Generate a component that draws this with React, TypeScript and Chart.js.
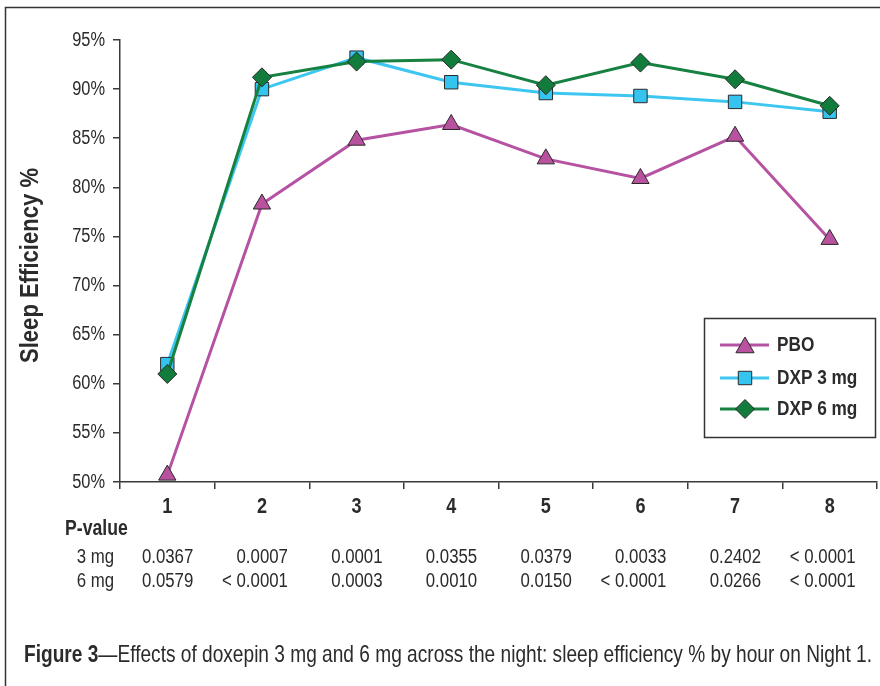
import React, { useEffect, useRef } from "react";
import { Chart, registerables } from "chart.js";

Chart.register(...registerables);

const hours = ["1", "2", "3", "4", "5", "6", "7", "8"];
const pbo = [50.7, 78.3, 84.8, 86.4, 82.9, 80.9, 85.2, 74.7];
const dxp3 = [62.0, 90.0, 93.2, 90.7, 89.6, 89.3, 88.7, 87.7];
const dxp6 = [61.0, 91.2, 92.8, 93.0, 90.4, 92.7, 91.0, 88.3];
const yTicks = [50, 55, 60, 65, 70, 75, 80, 85, 90, 95];
const p3mg = ["0.0367", "0.0007", "0.0001", "0.0355", "0.0379", "0.0033", "0.2402", "< 0.0001"];
const p6mg = ["0.0579", "< 0.0001", "0.0003", "0.0010", "0.0150", "< 0.0001", "0.0266", "< 0.0001"];
const seriesNames = ["PBO", "DXP 3 mg", "DXP 6 mg"];
const yTitle = "Sleep Efficiency %";
const pLabel = "P-value";
const rowLabels = ["3 mg", "6 mg"];
const captionBold = "Figure 3";
const captionRest = "\u2014Effects of doxepin 3 mg and 6 mg across the night: sleep efficiency % by hour on Night 1.";

const FONT = '"Liberation Sans", Arial, sans-serif';
const NARROW = 0.82;
const TEXT = "#2b2b2b";
const AXIS = "#3a3a3a";

const COLORS = {
  pbo: { line: "#b652a2", fill: "#b8529f" },
  dxp3: { line: "#3cc6f0", fill: "#35c4f0" },
  dxp6: { line: "#168140", fill: "#117c3b" },
};

function txt(ctx: CanvasRenderingContext2D, s: string, x: number, y: number, font: string, align: string, sx = NARROW) {
  ctx.save();
  ctx.font = font;
  ctx.textBaseline = "middle";
  ctx.textAlign = "left";
  const w = ctx.measureText(s).width * sx;
  const left = align === "right" ? x - w : align === "center" ? x - w / 2 : x;
  ctx.translate(left, y);
  ctx.scale(sx, 1);
  ctx.fillStyle = TEXT;
  ctx.fillText(s, 0, 0);
  ctx.restore();
}

function marker(ctx: CanvasRenderingContext2D, style: string, x: number, y: number, r: number, fill: string) {
  ctx.save();
  ctx.beginPath();
  if (style === "triangle") {
    ctx.moveTo(x, y - r);
    ctx.lineTo(x + r * Math.sin((2 * Math.PI) / 3), y + r / 2);
    ctx.lineTo(x - r * Math.sin((2 * Math.PI) / 3), y + r / 2);
    ctx.closePath();
  } else if (style === "rect") {
    const s = Math.SQRT1_2 * r;
    ctx.rect(x - s, y - s, 2 * s, 2 * s);
  } else {
    ctx.moveTo(x, y - r);
    ctx.lineTo(x + r, y);
    ctx.lineTo(x, y + r);
    ctx.lineTo(x - r, y);
    ctx.closePath();
  }
  ctx.fillStyle = fill;
  ctx.fill();
  ctx.lineWidth = 1;
  ctx.strokeStyle = "#2a2a2a";
  ctx.stroke();
  ctx.restore();
}

const decorPlugin = {
  id: "decor",
  afterDraw(chart: any) {
    const ctx: CanvasRenderingContext2D = chart.ctx;
    const xs = chart.scales.x;
    const ys = chart.scales.y;
    ctx.save();
    // frame
    ctx.strokeStyle = "#333";
    ctx.lineWidth = 1.5;
    ctx.beginPath();
    ctx.moveTo(5.5, 686);
    ctx.lineTo(5.5, 7.5);
    ctx.lineTo(880, 7.5);
    ctx.stroke();

    // y tick labels
    yTicks.forEach((v) => {
      txt(ctx, v + "%", 105, ys.getPixelForValue(v), "20px " + FONT, "right");
    });
    // x tick labels
    hours.forEach((h, i) => {
      txt(ctx, h, xs.getPixelForValue(i), 507, "bold 22px " + FONT, "center");
    });

    // y title
    ctx.save();
    ctx.font = "bold 26px " + FONT;
    const tw = ctx.measureText(yTitle).width;
    ctx.translate(31, 265.5);
    ctx.rotate(-Math.PI / 2);
    ctx.scale(195 / tw, 1);
    ctx.fillStyle = TEXT;
    ctx.textAlign = "center";
    ctx.textBaseline = "middle";
    ctx.fillText(yTitle, 0, 0);
    ctx.restore();

    // P-value table
    txt(ctx, pLabel, 65, 529, "bold 21.5px " + FONT, "left");
    txt(ctx, rowLabels[0], 114, 557, "20.5px " + FONT, "right");
    txt(ctx, rowLabels[1], 114, 581, "20.5px " + FONT, "right");
    hours.forEach((_, i) => {
      const px = xs.getPixelForValue(i) + 26;
      txt(ctx, p3mg[i], px, 557, "20.5px " + FONT, "right");
      txt(ctx, p6mg[i], px, 581, "20.5px " + FONT, "right");
    });

    // legend box
    ctx.strokeStyle = "#333";
    ctx.lineWidth = 1.5;
    ctx.strokeRect(704.5, 318.5, 171, 119);
    const rows = [
      { name: seriesNames[0], c: COLORS.pbo, s: "triangle", y: 345 },
      { name: seriesNames[1], c: COLORS.dxp3, s: "rect", y: 378 },
      { name: seriesNames[2], c: COLORS.dxp6, s: "diamond", y: 409 },
    ];
    rows.forEach((r) => {
      ctx.strokeStyle = r.c.line;
      ctx.lineWidth = 3;
      ctx.beginPath();
      ctx.moveTo(720, r.y);
      ctx.lineTo(769, r.y);
      ctx.stroke();
      marker(ctx, r.s, 745, r.s === "triangle" ? r.y + 2.5 : r.y, r.s === "triangle" ? 10.5 : 9.5, r.c.fill);
      txt(ctx, r.name, 777, r.y, "bold 21px " + FONT, "left");
    });

    // caption
    ctx.font = "bold 24px " + FONT;
    const wb = ctx.measureText(captionBold).width;
    ctx.font = "24px " + FONT;
    const wr = ctx.measureText(captionRest).width;
    const sx = 848 / (wb + wr);
    ctx.save();
    ctx.translate(24, 662);
    ctx.scale(sx, 1);
    ctx.fillStyle = TEXT;
    ctx.textBaseline = "alphabetic";
    ctx.textAlign = "left";
    ctx.font = "bold 24px " + FONT;
    ctx.fillText(captionBold, 0, 0);
    ctx.font = "24px " + FONT;
    ctx.fillText(captionRest, wb, 0);
    ctx.restore();
    ctx.restore();
  },
};

export default function App() {
  const ref = useRef<HTMLCanvasElement | null>(null);
  useEffect(() => {
    if (!ref.current) return;
    const mk = (label: string, data: number[], c: any, style: string, r: number, order: number) => ({
      label,
      data,
      borderColor: c.line,
      backgroundColor: c.fill,
      borderWidth: 3,
      pointStyle: style,
      pointRadius: r,
      pointHoverRadius: r,
      pointBackgroundColor: c.fill,
      pointBorderColor: "#2a2a2a",
      pointBorderWidth: 1,
      tension: 0,
      clip: false,
      order,
    });
    const chart = new Chart(ref.current, {
      type: "line",
      data: {
        labels: hours,
        datasets: [
          mk(seriesNames[0], pbo, COLORS.pbo, "triangle", 10, 3),
          mk(seriesNames[1], dxp3, COLORS.dxp3, "rect", 9.5, 2),
          mk(seriesNames[2], dxp6, COLORS.dxp6, "rectRot", 9.5, 1),
        ],
      },
      options: {
        animation: false,
        responsive: false,
        events: [],
        layout: { autoPadding: false, padding: { left: 0, right: 3, top: 40, bottom: 164 } },
        plugins: { legend: { display: false }, tooltip: { enabled: false }, title: { display: false } },
        scales: {
          x: {
            type: "category",
            offset: true,
            afterFit: (s: any) => { s.height = 40; s.paddingLeft = 0; s.paddingRight = 0; },
            grid: { offset: true, drawOnChartArea: false, drawTicks: true, tickLength: 7, color: AXIS, lineWidth: 1.5 },
            border: { display: true, color: AXIS, width: 1.5 },
            ticks: { color: "rgba(0,0,0,0)", font: { family: FONT, size: 12 }, padding: 2 },
          },
          y: {
            min: 50,
            max: 95,
            afterFit: (s: any) => { s.width = 120; s.paddingTop = 0; s.paddingBottom = 0; },
            afterBuildTicks: (s: any) => { s.ticks = yTicks.map((v) => ({ value: v })); },
            grid: { drawOnChartArea: false, drawTicks: true, tickLength: 7, color: AXIS, lineWidth: 1.5 },
            border: { display: true, color: AXIS, width: 1.5 },
            ticks: { color: "rgba(0,0,0,0)", font: { family: FONT, size: 12 }, padding: 2 },
          },
        },
      },
      plugins: [decorPlugin],
    });
    return () => chart.destroy();
  }, []);
  return (
    <div style={{ position: "fixed", left: 0, top: 0, width: 880, height: 686, background: "#fff" }}>
      <canvas ref={ref} width={880} height={686} style={{ display: "block", width: 880, height: 686 }} />
    </div>
  );
}
